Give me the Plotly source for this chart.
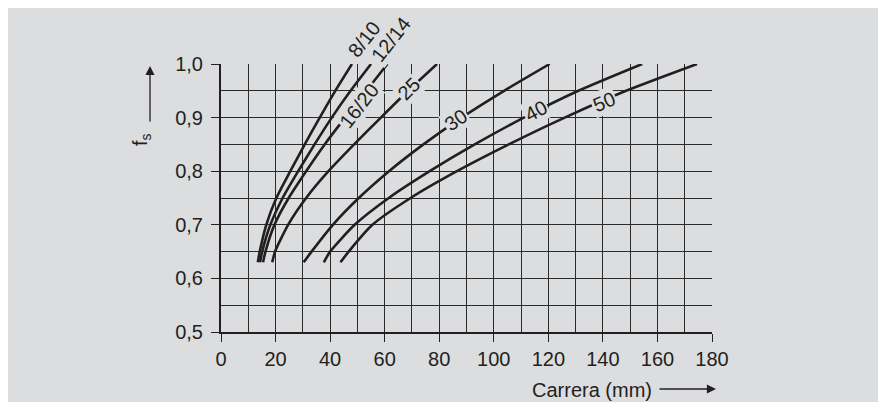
import plotly.graph_objects as go

# f_s levels (y) shared by all curves
fs_levels = [0.63, 0.65, 0.70, 0.75, 0.80, 0.85, 0.90, 0.95, 1.00]

# stroke (mm) read at each f_s level, per curve
curve_names = ["8/10", "12/14", "16/20", "25", "30", "40", "50"]
stroke_8_10 = [13.5, 14.2, 16.6, 20.3, 25.4, 30.7, 36.2, 41.9, 48.0]
stroke_12_14 = [14.3, 15.1, 18.1, 22.6, 28.3, 34.3, 40.6, 47.5, 55.0]
stroke_16_20 = [15.4, 16.3, 19.6, 24.8, 31.2, 38.0, 45.5, 53.3, 61.0]
stroke_25 = [18.8, 19.8, 24.6, 31.2, 39.4, 48.8, 58.6, 68.6, 79.2]
stroke_30 = [30.3, 33.2, 41.0, 50.5, 61.6, 74.2, 88.2, 103.8, 120.5]
stroke_40 = [37.7, 40.0, 49.0, 61.5, 76.5, 93.0, 111.0, 131.0, 154.4]
stroke_50 = [43.8, 46.8, 55.5, 69.5, 86.5, 105.5, 126.0, 148.5, 174.5]
strokes = [stroke_8_10, stroke_12_14, stroke_16_20, stroke_25, stroke_30, stroke_40, stroke_50]

# curve label anchor points (data coords) and angles
label_x = [52.6, 62.5, 50.5, 68.8, 86.1, 115.4, 140.3]
label_y = [1.046, 1.046, 0.922, 0.953, 0.895, 0.912, 0.929]
label_angle = [-52, -52, -52, -45, -35, -28, -22]

x_ticks = [0, 20, 40, 60, 80, 100, 120, 140, 160, 180]
y_ticks = [0.5, 0.6, 0.7, 0.8, 0.9, 1.0]

BG = "#dcdddf"
INK = "#231f20"
FONT = "Liberation Sans, Arial, sans-serif"
X_RANGE = [0, 180]
Y_RANGE = [0.5, 1.0]

# page has an 8px body margin: plot area in page px is x 221..712, y 64..332
PL, PR, PT, PB = 221, 712, 64, 332


def px_x(px):
    return (px - PL) / (PR - PL)


def px_y(py):
    return (PB - py) / (PB - PT)


fig = go.Figure()
for name, xs in zip(curve_names, strokes):
    fig.add_trace(go.Scatter(
        x=xs, y=fs_levels, mode="lines", name=name,
        line=dict(color=INK, width=2.6, shape="spline", smoothing=0.6),
        showlegend=False, hoverinfo="skip"))

annotations = []
for name, lx, ly, ang in zip(curve_names, label_x, label_y, label_angle):
    annotations.append(dict(
        x=(lx - X_RANGE[0]) / (X_RANGE[1] - X_RANGE[0]),
        y=(ly - Y_RANGE[0]) / (Y_RANGE[1] - Y_RANGE[0]),
        xref="paper", yref="paper", xanchor="center", yanchor="middle",
        text=name, showarrow=False,
        textangle=ang, font=dict(family=FONT, size=20, color=INK),
        bgcolor=BG, borderpad=1))

# axis titles with arrows
annotations.append(dict(
    x=px_x(141), y=px_y(140), xref="paper", yref="paper",
    xanchor="center", yanchor="middle",
    text="f<sub>s</sub>", showarrow=False, textangle=-90,
    font=dict(family=FONT, size=20, color=INK)))
annotations.append(dict(
    x=px_x(150), y=px_y(66), xref="paper", yref="paper",
    text="", showarrow=True, ax=0, ay=57, arrowhead=2, arrowsize=1.4,
    arrowwidth=1.3, arrowcolor=INK))
annotations.append(dict(
    x=px_x(592), y=px_y(390), xref="paper", yref="paper",
    xanchor="center", yanchor="middle",
    text="Carrera (mm)", showarrow=False,
    font=dict(family=FONT, size=20, color=INK)))
annotations.append(dict(
    x=px_x(716), y=px_y(389), xref="paper", yref="paper",
    text="", showarrow=True, ax=-58, ay=0, arrowhead=2, arrowsize=1.4,
    arrowwidth=1.3, arrowcolor=INK))

grid_col = "#2a2a2a"
fig.update_layout(
    width=870, height=394,
    margin=dict(l=PL - 8, r=870 - (PR - 8), t=PT - 8, b=394 - (PB - 8)),
    paper_bgcolor="white", plot_bgcolor=BG,
    separators=", ",
    font=dict(family=FONT, size=20, color=INK),
    annotations=annotations,
    shapes=[dict(type="rect", xref="paper", yref="paper",
                 x0=px_x(0), x1=px_x(880),
                 y0=px_y(406), y1=px_y(0),
                 fillcolor=BG, line=dict(width=0), layer="below")],
    xaxis=dict(range=X_RANGE, tickvals=x_ticks, ticktext=[str(v) for v in x_ticks],
               showgrid=True, gridcolor=grid_col, gridwidth=1.2,
               minor=dict(dtick=10, tick0=0, showgrid=True, gridcolor=grid_col, gridwidth=1.2),
               showline=True, linecolor=INK, linewidth=2, mirror=False,
               ticks="outside", ticklen=8, tickwidth=1.3, tickcolor=INK,
               zeroline=False, tickfont=dict(size=20, color=INK)),
    yaxis=dict(range=Y_RANGE, tickvals=y_ticks, tickformat=".1f",
               showgrid=True, gridcolor=grid_col, gridwidth=1.2,
               minor=dict(dtick=0.05, tick0=0.5, showgrid=True, gridcolor=grid_col, gridwidth=1.2),
               showline=True, linecolor=INK, linewidth=2, mirror=False,
               ticks="outside", ticklen=8, tickwidth=1.3, tickcolor=INK,
               ticklabelstandoff=4,
               zeroline=False, tickfont=dict(size=20, color=INK)),
)

fig.write_html("out.html")
